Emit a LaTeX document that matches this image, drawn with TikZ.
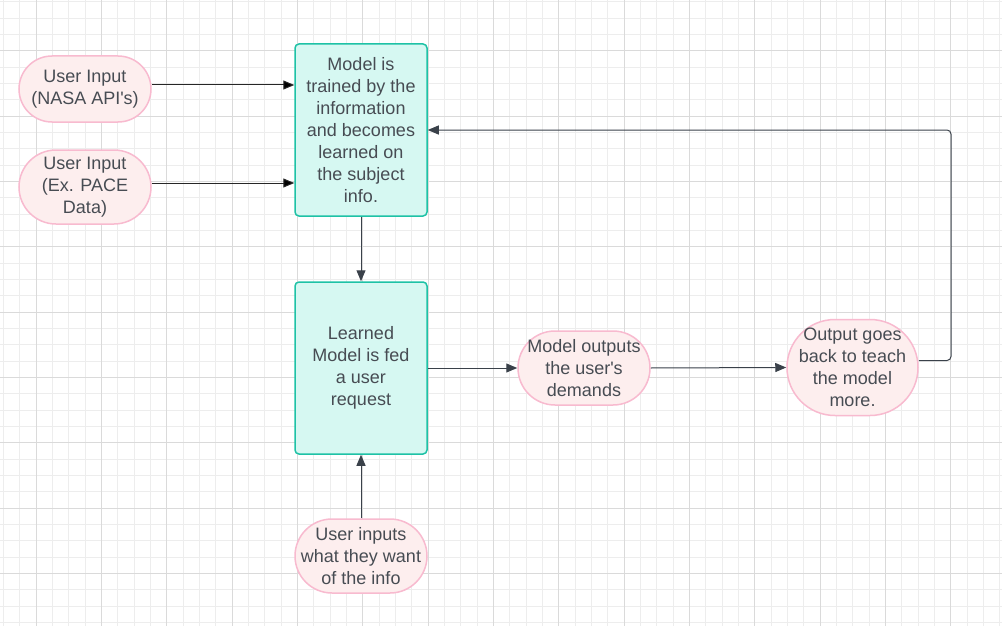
\documentclass[tikz,border=0pt]{standalone}
\usepackage{fontspec}
\newfontfamily\lf{Liberation Sans}
\usetikzlibrary{arrows.meta}
\definecolor{gridminor}{HTML}{EDEDED}
\definecolor{gridmajor}{HTML}{DADADA}
\definecolor{pinkfill}{HTML}{FDEEEE}
\definecolor{pinkline}{HTML}{F8BACF}
\definecolor{tealfill}{HTML}{D6F8F2}
\definecolor{tealline}{HTML}{1EC2A6}
\definecolor{txt}{HTML}{474C53}
\definecolor{conn}{HTML}{3A414A}
\begin{document}
\begin{tikzpicture}[x=1pt,y=-1pt,
  pill/.style={draw=pinkline, fill=pinkfill, line width=1.5pt, text=txt, align=center,
    font=\lf\fontsize{18}{22}\selectfont, inner sep=0pt, minimum width=132pt},
  box/.style={draw=tealline, fill=tealfill, line width=1.5pt, text=txt, align=center,
    font=\lf\fontsize{18}{22}\selectfont, inner sep=0pt, minimum width=132pt,
    minimum height=172pt, rounded corners=4pt},
  arr/.style={draw=conn, line width=1pt, -{Triangle[length=11pt,width=9pt]}},
  arrk/.style={draw=black!85, line width=1pt, -{Triangle[length=11pt,width=9pt,fill=black]}},
  minorline/.style={draw=gridminor, line width=1pt},
  majorline/.style={draw=gridmajor, line width=1pt}]
\useasboundingbox[fill=white] (0,0) rectangle (1002,626);
% grid
\foreach \i in {-2,...,59} { \draw[minorline] ({36+16.3375*\i},0) -- ++(0,626); }
\foreach \j in {-3,...,35} { \draw[minorline] (0,{50.7+16.3375*\j}) -- ++(1002,0); }
\foreach \i in {0,...,14} { \draw[majorline] ({36+65.35*\i},0) -- ++(0,626); }
\foreach \j in {0,...,8} { \draw[majorline] (0,{50.7+65.35*\j}) -- ++(1002,0); }
% nodes
\node[pill, minimum height=66pt, rounded corners=33pt] (in1) at (85,89) {User Input\\(NASA API's)};
\node[pill, minimum height=74pt, rounded corners=37pt] (in2) at (85,187) {User Input\\(Ex. PACE\\Data)};
\node[box] (m1) at (361,130) {Model is\\trained by the\\information\\and becomes\\learned on\\the subject\\info.};
\node[box] (m2) at (361,368) {Learned\\Model is fed\\a user\\request};
\node[pill, minimum height=74pt, rounded corners=37pt] (out) at (584,368) {Model outputs\\the user's\\demands};
\node[pill, minimum width=131pt, minimum height=96pt, rounded corners=48pt] (fb) at (852.5,367.5) {Output goes\\back to teach\\the model\\more.};
\node[pill, minimum height=74pt, rounded corners=37pt] (ui) at (361,556) {User inputs\\what they want\\of the info};
\coordinate (corner) at (951,130);
% connectors
\draw[arrk] ([yshift=4pt]in1.east) -- ([yshift=4pt]in1.east -| m1.west);
\draw[arrk] ([yshift=4pt]in2.east) -- ([yshift=4pt]in2.east -| m1.west);
\draw[arr] (m1.south) -- (m2.north);
\draw[arr] (m2.east) -- (out.west);
\draw[arr] (out.east) -- (fb.west);
\draw[arr, rounded corners=4pt] ([yshift=7pt]fb.east) -| (corner) -- (m1.east);
\draw[arr] (ui.north) -- (m2.south);
\end{tikzpicture}
\end{document}
